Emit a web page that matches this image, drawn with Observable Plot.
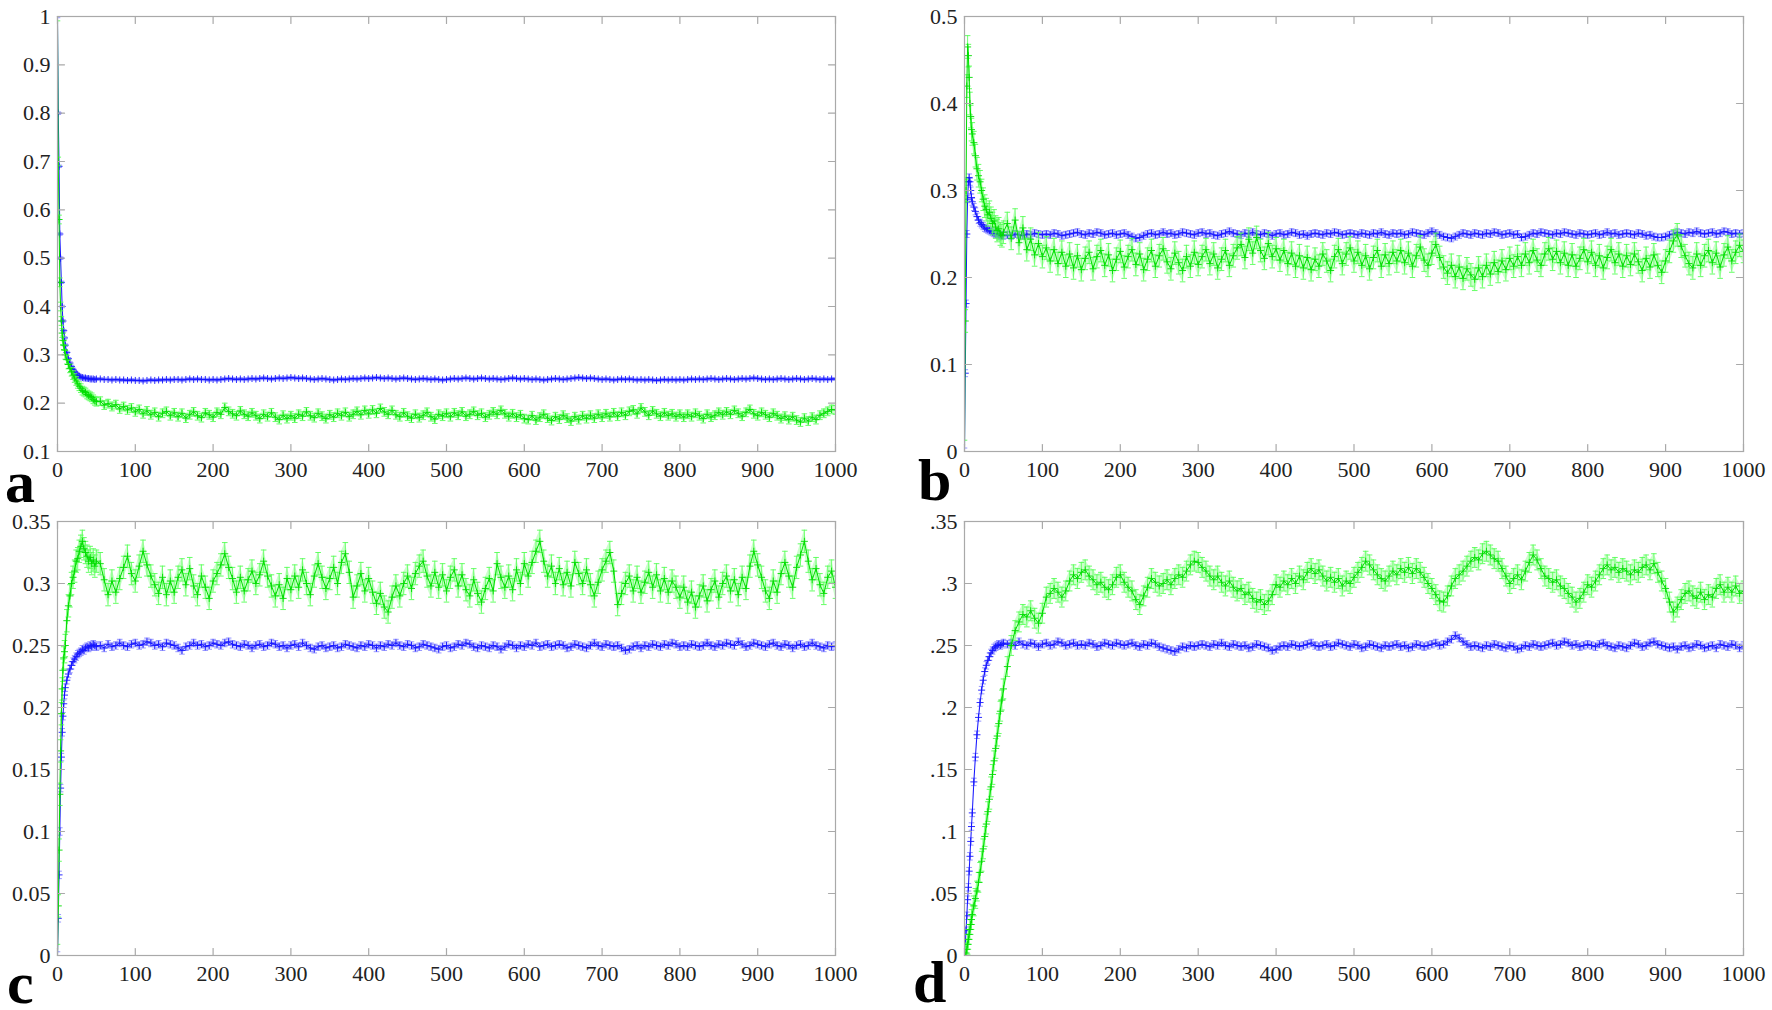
<!DOCTYPE html>
<html><head><meta charset="utf-8">
<script src="https://cdn.jsdelivr.net/npm/d3@7"></script>
<script src="https://cdn.jsdelivr.net/npm/@observablehq/plot@0.6"></script>
<style>
html,body{margin:0;padding:0;background:#fff;}
#root{position:relative;width:1772px;height:1010px;overflow:hidden;background:#fff;}
.panel{position:absolute;}
#root svg text{font-family:"Liberation Serif","Times New Roman",Times,"DejaVu Serif",serif !important;}
.letter{position:absolute;font-family:"Liberation Serif","Times New Roman",Times,"DejaVu Serif",serif !important;font-weight:bold;font-size:60px;line-height:0.8;color:#000;z-index:5;}
</style></head><body><div id="root"></div>
<script>
// sample positions (time steps)
const steps = [0,1,2,3,4,5,6,7,8,9,10,12,14,16,18,20,22,24,26,28,30,32,34,36,38,40,42,44,46,48,50,
55,60,65,70,75,80,85,90,95,100,105,110,115,120,125,130,135,140,145,150,155,160,165,170,175,180,185,190,195,200,
205,210,215,220,225,230,235,240,245,250,255,260,265,270,275,280,285,290,295,300,305,310,315,320,325,330,335,340,345,350,
355,360,365,370,375,380,385,390,395,400,405,410,415,420,425,430,435,440,445,450,455,460,465,470,475,480,485,490,495,500,
505,510,515,520,525,530,535,540,545,550,555,560,565,570,575,580,585,590,595,600,605,610,615,620,625,630,635,640,645,650,
655,660,665,670,675,680,685,690,695,700,705,710,715,720,725,730,735,740,745,750,755,760,765,770,775,780,785,790,795,800,
805,810,815,820,825,830,835,840,845,850,855,860,865,870,875,880,885,890,895,900,905,910,915,920,925,930,935,940,945,950,
955,960,965,970,975,980,985,990,995,1000];

// ---- panel a ----
const aBlue = [1.0,.80,.69,.55,.50,.45,.40,.37,.35,.335,.32,.305,.292,.283,.276,.27,.265,.261,.258,.256,.254,.253,.252,.252,.251,.251,.25,.25,.25,.249,.25,
.250,.249,.249,.248,.249,.248,.248,.247,.248,.247,
.247,.246,.247,.248,.247,.248,.248,.249,.248,.249,
.249,.248,.249,.25,.249,.25,.249,.249,.248,.249,
.248,.249,.25,.251,.25,.249,.25,.249,.25,.251,
.25,.251,.252,.251,.25,.251,.252,.251,.252,.253,
.252,.251,.252,.251,.25,.249,.25,.251,.25,.249,
.248,.249,.25,.249,.25,.251,.25,.251,.252,.251,
.252,.253,.252,.251,.252,.251,.25,.251,.252,.251,
.25,.249,.25,.251,.25,.249,.25,.249,.248,.249,
.25,.251,.25,.251,.252,.251,.25,.251,.252,.251,
.25,.251,.25,.249,.25,.251,.252,.251,.25,.251,
.25,.249,.25,.249,.248,.249,.25,.251,.25,.249,
.25,.251,.252,.253,.252,.251,.252,.251,.25,.249,
.25,.249,.248,.249,.25,.249,.25,.249,.248,.249,
.248,.249,.248,.247,.248,.249,.248,.249,.248,.249,
.248,.249,.25,.249,.25,.249,.25,.251,.25,.249,
.25,.251,.25,.249,.25,.251,.25,.251,.252,.251,
.25,.249,.25,.249,.25,.251,.25,.249,.25,.251,
.25,.249,.25,.251,.25,.249,.25,.249,.25,.25];
const aGreen = [1.0,.70,.58,.45,.40,.37,.345,.33,.32,.31,.30,.29,.28,.272,.265,.258,.252,.246,.24,.235,.231,.226,.224,.222,.218,.216,.214,.212,.208,.205,.203,
.204,.196,.199,.193,.197,.188,.193,.186,.19,.182,
.187,.178,.184,.176,.181,.172,.179,.183,.174,.18,
.172,.179,.169,.176,.182,.174,.17,.18,.176,.171,
.181,.177,.191,.183,.178,.174,.184,.177,.173,.18,
.174,.168,.177,.172,.18,.171,.166,.175,.168,.174,
.169,.177,.173,.182,.174,.17,.179,.173,.168,.176,
.171,.179,.174,.181,.172,.177,.183,.176,.185,.178,
.186,.179,.189,.182,.177,.185,.176,.172,.18,.173,
.169,.177,.17,.175,.181,.172,.167,.177,.173,.179,
.172,.18,.175,.182,.173,.177,.183,.175,.179,.171,
.176,.182,.177,.185,.178,.172,.178,.171,.176,.168,
.166,.174,.165,.171,.177,.169,.164,.172,.167,.175,
.169,.163,.172,.166,.174,.168,.175,.169,.177,.171,
.178,.172,.18,.173,.181,.175,.183,.186,.178,.19,
.182,.175,.184,.178,.173,.18,.174,.178,.172,.177,
.171,.177,.172,.179,.174,.168,.177,.171,.175,.181,
.176,.182,.177,.185,.179,.173,.181,.187,.178,.174,
.181,.176,.171,.179,.174,.168,.173,.166,.172,.165,
.161,.169,.163,.171,.166,.175,.179,.183,.187,.186];
const aBlueErr = 0.0025, aGreenErr = 0.009;

// ---- panel b ----
const bBlue = [0,.09,.17,.25,.29,.31,.315,.31,.30,.292,.287,.281,.276,.27,.266,.263,.261,.259,.257,.256,.255,.254,.253,.252,.251,.25,.25,.249,.248,.249,.248,
.249,.248,.25,.249,.248,.25,.249,.251,.25,.249,
.25,.249,.251,.25,.248,.249,.25,.251,.252,.25,
.249,.251,.25,.252,.251,.249,.25,.251,.249,.25,
.251,.249,.247,.245,.246,.248,.25,.251,.249,.25,
.252,.25,.251,.249,.25,.252,.251,.25,.249,.251,
.252,.25,.251,.249,.248,.25,.251,.253,.251,.25,
.249,.251,.25,.252,.25,.249,.251,.25,.248,.25,
.251,.249,.25,.252,.251,.249,.25,.248,.25,.251,
.25,.249,.251,.25,.252,.251,.249,.25,.251,.25,
.249,.251,.25,.249,.251,.25,.252,.25,.249,.251,
.25,.251,.249,.25,.252,.251,.25,.249,.251,.253,
.251,.249,.247,.246,.245,.247,.249,.251,.25,.249,
.251,.25,.249,.251,.25,.252,.251,.249,.25,.251,
.249,.25,.246,.247,.249,.251,.25,.252,.251,.25,
.249,.251,.25,.252,.251,.25,.249,.251,.25,.249,
.25,.251,.249,.25,.252,.25,.251,.249,.25,.251,
.25,.249,.251,.25,.248,.249,.247,.246,.246,.247,
.249,.25,.252,.251,.25,.252,.251,.253,.251,.25,
.251,.252,.25,.251,.253,.252,.25,.251,.25,.251];
const bGreen = [0,.15,.30,.42,.465,.455,.43,.40,.385,.37,.365,.355,.34,.325,.317,.31,.30,.29,.282,.278,.272,.275,.268,.262,.265,.258,.254,.256,.25,.248,.252,
.262,.245,.266,.24,.257,.232,.244,.226,.239,.224,
.234,.219,.232,.216,.229,.213,.227,.211,.225,.209,
.222,.229,.21,.224,.231,.214,.226,.208,.221,.23,
.212,.224,.232,.215,.227,.209,.221,.231,.213,.225,
.233,.218,.21,.228,.217,.208,.224,.213,.229,.215,
.224,.232,.216,.227,.211,.221,.231,.214,.225,.234,
.238,.223,.244,.228,.246,.231,.222,.239,.224,.233,
.22,.231,.216,.228,.213,.225,.211,.223,.209,.221,
.213,.227,.219,.208,.224,.232,.216,.227,.234,.219,
.229,.214,.225,.21,.223,.231,.213,.226,.216,.229,
.219,.231,.217,.228,.213,.225,.235,.22,.214,.228,
.238,.223,.212,.205,.214,.201,.212,.199,.21,.203,
.198,.211,.201,.214,.204,.217,.207,.219,.209,.222,
.213,.224,.214,.227,.217,.231,.22,.214,.227,.233,
.221,.23,.217,.228,.214,.226,.213,.222,.232,.218,
.229,.214,.225,.211,.223,.232,.217,.227,.213,.225,
.215,.227,.218,.208,.222,.212,.226,.214,.206,.219,
.23,.242,.249,.236,.225,.216,.211,.227,.214,.225,
.231,.217,.228,.212,.226,.235,.219,.229,.237,.23];
const bBlueErr = 0.004, bGreenErr = 0.013;

// ---- panel c ----
const cBlue = [0,.03,.065,.10,.135,.16,.18,.193,.203,.21,.216,.222,.227,.231,.234,.237,.239,.241,.243,.244,.245,.247,.246,.248,.249,.248,.25,.249,.251,.25,.249,
.25,.248,.251,.249,.25,.252,.25,.249,.251,.252,
.25,.251,.253,.252,.25,.251,.249,.252,.251,.25,
.248,.246,.249,.25,.252,.25,.251,.249,.25,.252,
.251,.25,.252,.253,.251,.25,.249,.251,.25,.248,
.25,.251,.249,.25,.252,.251,.249,.25,.248,.25,
.251,.249,.252,.25,.248,.247,.249,.25,.248,.249,
.25,.248,.249,.251,.25,.249,.248,.25,.249,.251,
.25,.248,.25,.249,.251,.25,.252,.25,.249,.251,
.25,.248,.249,.251,.25,.249,.248,.247,.249,.25,
.248,.249,.251,.25,.252,.251,.249,.248,.25,.249,
.248,.25,.249,.247,.249,.251,.25,.248,.25,.249,
.251,.25,.252,.249,.25,.251,.249,.25,.251,.25,
.248,.249,.251,.25,.249,.248,.25,.252,.25,.249,
.251,.25,.249,.25,.248,.246,.247,.249,.25,.248,
.25,.249,.251,.25,.249,.251,.25,.252,.251,.249,
.25,.249,.251,.25,.249,.25,.252,.25,.249,.251,
.25,.252,.251,.25,.253,.251,.249,.25,.252,.251,
.25,.249,.251,.252,.25,.249,.251,.25,.248,.25,
.251,.249,.25,.252,.25,.249,.248,.25,.249,.25];
const cGreen = [0,.04,.085,.13,.165,.195,.215,.23,.24,.245,.25,.27,.282,.29,.30,.305,.31,.318,.32,.326,.33,.334,.328,.325,.322,.318,.321,.316,.319,.314,.318,
.316,.303,.291,.302,.293,.304,.313,.322,.308,.302,
.314,.326,.315,.306,.299,.292,.305,.291,.302,.293,
.305,.311,.299,.312,.298,.291,.306,.297,.288,.302,
.308,.315,.324,.313,.304,.293,.305,.294,.303,.31,
.3,.307,.318,.306,.298,.29,.299,.288,.304,.295,
.306,.297,.311,.3,.291,.306,.316,.305,.296,.304,
.313,.3,.317,.324,.309,.289,.298,.308,.294,.304,
.293,.284,.292,.281,.277,.289,.298,.29,.3,.306,
.296,.308,.314,.318,.306,.298,.309,.297,.307,.294,
.305,.311,.298,.307,.295,.29,.303,.292,.285,.296,
.304,.294,.316,.305,.297,.306,.295,.311,.3,.316,
.306,.317,.326,.334,.318,.306,.314,.3,.312,.299,
.309,.298,.317,.308,.3,.311,.299,.29,.301,.311,
.318,.325,.31,.283,.292,.3,.306,.294,.305,.293,
.301,.309,.297,.307,.294,.304,.293,.302,.297,.289,
.297,.285,.293,.281,.29,.298,.286,.295,.302,.289,
.3,.306,.294,.303,.291,.305,.296,.314,.326,.315,
.305,.294,.288,.302,.293,.308,.317,.306,.297,.313,
.323,.334,.318,.303,.312,.299,.292,.305,.31,.297];
const cBlueErr = 0.003, cGreenErr = 0.009;

// ---- panel d ----
const dBlue = [0,.01,.02,.032,.045,.055,.068,.08,.092,.104,.115,.14,.16,.178,.192,.204,.214,.222,.229,.234,.238,.241,.244,.246,.248,.249,.25,.251,.25,.251,.252,
.251,.252,.25,.253,.251,.25,.252,.251,.249,.251,
.252,.25,.251,.253,.252,.25,.251,.252,.25,.251,
.25,.252,.251,.249,.25,.252,.251,.25,.252,.251,
.25,.251,.252,.25,.249,.251,.25,.252,.251,.249,
.248,.247,.246,.245,.247,.249,.248,.25,.249,.25,
.251,.25,.249,.251,.25,.252,.25,.249,.251,.25,
.249,.25,.248,.249,.251,.25,.249,.248,.246,.247,
.249,.25,.249,.251,.25,.249,.25,.251,.252,.25,
.249,.25,.251,.249,.25,.252,.251,.25,.249,.251,
.25,.248,.249,.251,.25,.249,.248,.25,.249,.25,
.251,.249,.25,.248,.249,.251,.25,.249,.25,.251,
.252,.25,.251,.253,.255,.258,.256,.253,.251,.249,
.25,.249,.248,.25,.249,.251,.25,.249,.248,.25,
.249,.247,.248,.25,.249,.251,.25,.249,.25,.251,
.252,.25,.251,.253,.252,.25,.251,.249,.25,.251,
.25,.249,.251,.252,.25,.249,.248,.25,.249,.248,
.25,.252,.251,.249,.25,.252,.253,.251,.25,.249,
.248,.249,.247,.249,.25,.248,.249,.251,.25,.248,
.249,.25,.248,.251,.25,.249,.251,.25,.248,.25];
const dGreen = [0,0,.002,.005,.009,.013,.017,.021,.025,.029,.033,.04,.046,.052,.059,.067,.076,.086,.096,.106,.116,.126,.136,.146,.157,.167,.177,.187,.197,.206,.215,
.233,.25,.262,.269,.275,.273,.278,.272,.268,.276,
.289,.292,.296,.293,.289,.294,.302,.307,.304,.309,
.311,.306,.303,.299,.301,.297,.295,.299,.305,.307,
.301,.297,.294,.287,.283,.29,.297,.304,.301,.298,
.3,.303,.299,.304,.307,.305,.31,.315,.318,.317,
.313,.31,.306,.303,.306,.301,.298,.302,.297,.294,
.296,.291,.293,.288,.285,.287,.283,.286,.291,.299,
.297,.302,.299,.304,.3,.306,.303,.309,.312,.308,
.311,.306,.302,.305,.301,.304,.298,.302,.3,.305,
.309,.313,.318,.315,.311,.307,.304,.302,.306,.31,
.307,.312,.309,.313,.308,.312,.309,.305,.3,.296,
.291,.286,.285,.29,.298,.304,.307,.31,.314,.318,
.321,.319,.324,.326,.323,.32,.318,.312,.306,.3,
.304,.307,.303,.31,.317,.323,.319,.312,.306,.304,
.301,.303,.298,.296,.292,.289,.285,.288,.293,.299,
.297,.302,.307,.312,.315,.311,.313,.309,.312,.31,
.307,.311,.309,.313,.315,.311,.316,.309,.302,.296,
.285,.277,.281,.287,.292,.294,.29,.288,.293,.287,
.291,.289,.296,.299,.293,.297,.293,.298,.292,.294];
const dBlueErr = 0.003, dGreenErr = 0.008;

// ---- ticks ----
const xTicks = [0,100,200,300,400,500,600,700,800,900,1000];
const xLabels = ["0","100","200","300","400","500","600","700","800","900","1000"];
const aYTicks = [0.1,0.2,0.3,0.4,0.5,0.6,0.7,0.8,0.9,1];
const aYLabels = ["0.1","0.2","0.3","0.4","0.5","0.6","0.7","0.8","0.9","1"];
const bYTicks = [0,0.1,0.2,0.3,0.4,0.5];
const bYLabels = ["0","0.1","0.2","0.3","0.4","0.5"];
const cYTicks = [0,0.05,0.1,0.15,0.2,0.25,0.3,0.35];
const cYLabels = ["0","0.05","0.1","0.15","0.2","0.25","0.3","0.35"];
const dYTicks = [0,0.05,0.1,0.15,0.2,0.25,0.3,0.35];
const dYLabels = ["0",".05",".1",".15",".2",".25",".3",".35"];

const BLUE = "#1414ff", BLUE_ERR = "#8c8cff", GREEN = "#00dd00", GREEN_ERR = "#55ff55", AXIS = "#a9a9a9";
const FONT = '"Liberation Serif", "Times New Roman", Times, "DejaVu Serif", serif';

const tickShape = {draw(ctx, l) { ctx.moveTo(0, 0); ctx.lineTo(0, -l); }};
const capSymbol = {draw(ctx, size) { const w = Math.sqrt(size / Math.PI); ctx.moveTo(-w, 0); ctx.lineTo(w, 0); }};

function seriesMarks(vals, err, line, errColor) {
  const rows = steps.map((x, i) => ({x, y: vals[i], lo: vals[i] - err, hi: vals[i] + err}));
  return [
    Plot.areaY(rows, {x: "x", y1: "lo", y2: "hi", fill: errColor, fillOpacity: 0.3, clip: true}),
    Plot.ruleX(rows, {x: "x", y1: "lo", y2: "hi", stroke: errColor, strokeOpacity: 0.8, strokeWidth: 1, clip: true}),
    Plot.dot(rows, {x: "x", y: "hi", symbol: capSymbol, r: 2.8, stroke: errColor, strokeOpacity: 0.9, strokeWidth: 1, clip: true}),
    Plot.dot(rows, {x: "x", y: "lo", symbol: capSymbol, r: 2.8, stroke: errColor, strokeOpacity: 0.9, strokeWidth: 1, clip: true}),
    Plot.line(rows, {x: "x", y: "y", stroke: line, strokeWidth: 1, clip: true}),
    Plot.dot(rows, {x: "x", y: "y", symbol: "plus", r: 2.4, stroke: line, strokeWidth: 0.9, clip: true})
  ];
}

const ML = 55, MR = 30, MT = 14, MB = 42;

function panel({blue, green, blueErr, greenErr, yDomain, yTicks, yLabels, left, top, fw, fh}) {
  const fmtX = d => xLabels[xTicks.indexOf(d)];
  const fmtY = d => yLabels[yTicks.indexOf(d)];
  const chart = Plot.plot({
    width: ML + fw + MR,
    height: MT + fh + MB,
    marginLeft: ML, marginRight: MR, marginTop: MT, marginBottom: MB,
    style: {fontFamily: FONT, fontSize: "22px", color: "#222", background: "transparent", overflow: "visible"},
    x: {domain: [0, 1000]},
    y: {domain: yDomain},
    marks: [
      ...seriesMarks(blue, blueErr, BLUE, BLUE_ERR),
      ...seriesMarks(green, greenErr, GREEN, GREEN_ERR),
      Plot.frame({stroke: AXIS, strokeWidth: 1.2}),
      Plot.vectorX(xTicks, {x: d => d, frameAnchor: "bottom", rotate: 0, length: 7, anchor: "start", shape: tickShape, stroke: AXIS, strokeWidth: 1.2}),
      Plot.vectorX(xTicks, {x: d => d, frameAnchor: "top", rotate: 180, length: 7, anchor: "start", shape: tickShape, stroke: AXIS, strokeWidth: 1.2}),
      Plot.vectorY(yTicks, {y: d => d, frameAnchor: "left", rotate: 90, length: 7, anchor: "start", shape: tickShape, stroke: AXIS, strokeWidth: 1.2}),
      Plot.vectorY(yTicks, {y: d => d, frameAnchor: "right", rotate: -90, length: 7, anchor: "start", shape: tickShape, stroke: AXIS, strokeWidth: 1.2}),
      Plot.axisX({ticks: xTicks, tickFormat: fmtX, anchor: "bottom", tickSize: 0, tickPadding: 10, label: null, fill: "#222", fontFamily: FONT}),
      Plot.axisY({ticks: yTicks, tickFormat: fmtY, anchor: "left", tickSize: 0, tickPadding: 7, label: null, fill: "#222", fontFamily: FONT})
    ]
  });
  chart.classList.add("panel");
  chart.style.left = (left - ML) + "px";
  chart.style.top = (top - MT) + "px";
  return chart;
}

const root = document.getElementById("root");
root.appendChild(panel({blue: aBlue, green: aGreen, blueErr: aBlueErr, greenErr: aGreenErr, yDomain: [0.1, 1], yTicks: aYTicks, yLabels: aYLabels, left: 57, top: 16, fw: 778, fh: 435}));
root.appendChild(panel({blue: bBlue, green: bGreen, blueErr: bBlueErr, greenErr: bGreenErr, yDomain: [0, 0.5], yTicks: bYTicks, yLabels: bYLabels, left: 964, top: 16, fw: 779, fh: 435}));
root.appendChild(panel({blue: cBlue, green: cGreen, blueErr: cBlueErr, greenErr: cGreenErr, yDomain: [0, 0.35], yTicks: cYTicks, yLabels: cYLabels, left: 57, top: 521, fw: 778, fh: 434}));
root.appendChild(panel({blue: dBlue, green: dGreen, blueErr: dBlueErr, greenErr: dGreenErr, yDomain: [0, 0.35], yTicks: dYTicks, yLabels: dYLabels, left: 964, top: 521, fw: 779, fh: 434}));

const letters = [["a", 5, 458], ["b", 918, 456], ["c", 7, 959], ["d", 913, 958]];
for (const [t, x, y] of letters) {
  const el = document.createElement("div");
  el.className = "letter";
  el.textContent = t;
  el.style.left = x + "px";
  el.style.top = y + "px";
  root.appendChild(el);
}
</script>
</body></html>
